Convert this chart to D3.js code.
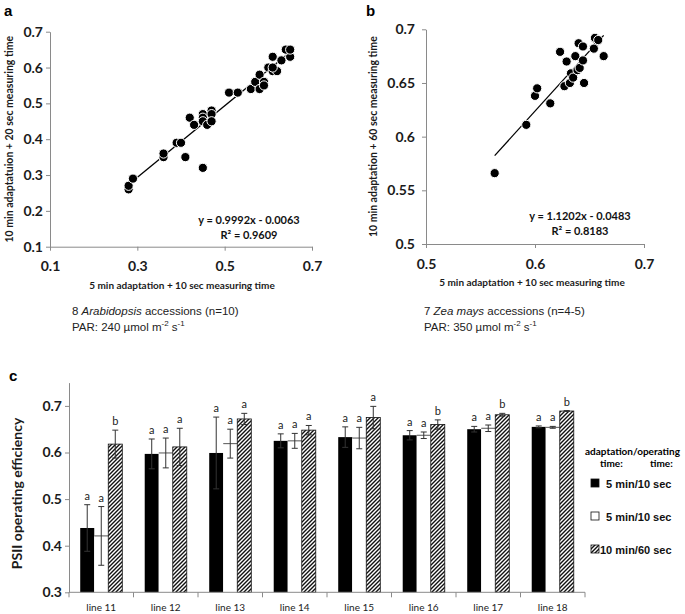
<!DOCTYPE html>
<html>
<head>
<meta charset="utf-8">
<script src="https://cdn.jsdelivr.net/npm/d3@7"></script>
<style>
  body { margin: 0; background: #fff; }
  svg { display: block; }
</style>
</head>
<body>
<svg id="chart" width="685" height="614"></svg>
<script>
// panel a - Arabidopsis
const aX = [0.28, 0.28, 0.29, 0.36, 0.36, 0.39, 0.40, 0.41, 0.42, 0.43, 0.45, 0.45, 0.45, 0.45, 0.46, 0.47, 0.47, 0.47,
  0.51, 0.53, 0.56, 0.57, 0.58, 0.58, 0.59, 0.59, 0.60, 0.61, 0.62, 0.61, 0.61, 0.63, 0.65, 0.64, 0.65];
const aY = [0.26, 0.27, 0.29, 0.35, 0.36, 0.39, 0.39, 0.35, 0.46, 0.44, 0.47, 0.46, 0.45, 0.32, 0.44, 0.48, 0.47, 0.45,
  0.53, 0.53, 0.54, 0.56, 0.58, 0.54, 0.56, 0.55, 0.60, 0.59, 0.59, 0.60, 0.63, 0.62, 0.63, 0.65, 0.65];
const aFit = [0.9992, -0.0063];
const aFitText = ['y = 0.9992x - 0.0063', 'R² = 0.9609'];
const aXTicks = [0.1, 0.3, 0.5, 0.7];
const aYTicks = [0.1, 0.2, 0.3, 0.4, 0.5, 0.6, 0.7];

// panel b - Zea mays
const bX = [0.563, 0.592, 0.600, 0.602, 0.614, 0.623, 0.627, 0.629, 0.632, 0.633, 0.635, 0.637, 0.639, 0.640, 0.641,
  0.644, 0.644, 0.645, 0.657, 0.654, 0.655, 0.658, 0.663];
const bY = [0.566, 0.611, 0.638, 0.645, 0.631, 0.679, 0.647, 0.670, 0.650, 0.659, 0.655, 0.675, 0.662, 0.687, 0.664,
  0.671, 0.684, 0.650, 0.689, 0.682, 0.692, 0.690, 0.675];
const bFit = [1.1202, -0.0483];
const bFitText = ['y = 1.1202x - 0.0483', 'R² = 0.8183'];
const bXTicks = [0.5, 0.6, 0.7];
const bYTicks = [0.5, 0.55, 0.6, 0.65, 0.7];

// panel c - bars
const lines = ['line 11', 'line 12', 'line 13', 'line 14', 'line 15', 'line 16', 'line 17', 'line 18'];
const seriesNames = ['5 min/10 sec', '5 min/10 sec', '10 min/60 sec'];
const mean1 = [0.438, 0.597, 0.599, 0.625, 0.633, 0.637, 0.650, 0.655];
const err1 = [0.050, 0.032, 0.077, 0.015, 0.022, 0.010, 0.006, 0.002];
const mean2 = [0.421, 0.599, 0.619, 0.625, 0.631, 0.637, 0.652, 0.654];
const err2 = [0.063, 0.032, 0.031, 0.016, 0.023, 0.007, 0.007, 0.002];
const mean3 = [0.618, 0.612, 0.672, 0.648, 0.675, 0.660, 0.681, 0.689];
const err3 = [0.030, 0.040, 0.012, 0.010, 0.024, 0.010, 0.003, 0.001];
const letters1 = ['a', 'a', 'a', 'a', 'a', 'a', 'a', 'a'];
const letters2 = ['a', 'a', 'a', 'a', 'a', 'a', 'a', 'a'];
const letters3 = ['b', 'a', 'a', 'a', 'a', 'b', 'b', 'b'];
const cYTicks = [0.3, 0.4, 0.5, 0.6, 0.7];

const calibri = 'Lato, "Open Sans", sans-serif';
const arial = '"Liberation Sans", Arial, sans-serif';
const axisGrey = '#8a8a8a';

const svg = d3.select('#chart');
svg.append('rect').attr('width', 685).attr('height', 614).attr('fill', '#fff');

const defs = svg.append('defs');
const hatch = defs.append('pattern')
  .attr('id', 'hatch')
  .attr('patternUnits', 'userSpaceOnUse')
  .attr('width', 4).attr('height', 4);
hatch.append('rect').attr('width', 4).attr('height', 4).attr('fill', '#fff');
hatch.append('path')
  .attr('d', 'M-1,1 l2,-2 M0,4 l4,-4 M3,5 l2,-2')
  .attr('stroke', '#111').attr('stroke-width', 1.4);

function styleAxis (g, size) {
  g.attr('font-family', calibri).attr('font-size', size).attr('font-weight', 'bold');
  g.select('.domain').attr('stroke', axisGrey);
  g.selectAll('.tick line').attr('stroke', axisGrey);
  g.selectAll('.tick text').attr('fill', '#1b1b1b');
}

function scatter (o) {
  const x = d3.scaleLinear().domain(o.xDomain).range([o.left, o.right]);
  const y = d3.scaleLinear().domain(o.yDomain).range([o.bottom, o.top]);
  const fmt = d => String(+d.toFixed(2));

  svg.append('g')
    .attr('transform', 'translate(0,' + o.bottom + ')')
    .call(d3.axisBottom(x).tickValues(o.xTicks).tickFormat(fmt).tickSize(4).tickSizeOuter(0).tickPadding(o.xPad))
    .call(g => styleAxis(g, 14));

  svg.append('g')
    .attr('transform', 'translate(' + o.left + ',0)')
    .call(d3.axisLeft(y).tickValues(o.yTicks).tickFormat(fmt).tickSize(4).tickSizeOuter(0).tickPadding(o.yPad))
    .call(g => styleAxis(g, 14));

  const x0 = d3.min(o.xs), x1 = d3.max(o.xs);
  svg.append('line')
    .attr('x1', x(x0)).attr('y1', y(o.fit[0] * x0 + o.fit[1]))
    .attr('x2', x(x1)).attr('y2', y(o.fit[0] * x1 + o.fit[1]))
    .attr('stroke', '#000').attr('stroke-width', 1.3);

  svg.append('g').selectAll('circle')
    .data(o.xs.map((d, i) => [d, o.ys[i]]))
    .enter().append('circle')
    .attr('cx', d => x(d[0]))
    .attr('cy', d => y(d[1]))
    .attr('r', 4.6)
    .attr('fill', '#000')
    .attr('stroke', '#fff')
    .attr('stroke-width', 1);

  svg.append('g').selectAll('text')
    .data(o.fitText)
    .enter().append('text')
    .attr('x', o.eqX)
    .attr('y', (d, i) => o.eqY + i * 15)
    .attr('text-anchor', 'middle')
    .attr('font-family', calibri).attr('font-size', 11).attr('font-weight', 'bold')
    .attr('fill', '#111')
    .text(d => d);

  svg.append('text')
    .attr('x', (o.left + o.right) / 2 + o.xTitleShift)
    .attr('y', o.bottom + 42)
    .attr('text-anchor', 'middle')
    .attr('font-family', calibri).attr('font-size', 10).attr('font-weight', 'bold')
    .attr('fill', '#1b1b1b')
    .text('5 min adaptation + 10 sec measuring time');

  svg.append('text')
    .attr('transform', 'translate(' + o.yTitleX + ',' + ((o.top + o.bottom) / 2) + ') rotate(-90)')
    .attr('text-anchor', 'middle')
    .attr('font-family', calibri).attr('font-size', 10.5).attr('font-weight', 'bold')
    .attr('fill', '#1b1b1b')
    .text(o.yTitle);

  svg.append('text')
    .attr('x', o.tagX).attr('y', 16)
    .attr('font-family', arial).attr('font-size', 15).attr('font-weight', 'bold')
    .text(o.tag);
}

scatter({
  xs: aX, ys: aY, fit: aFit, fitText: aFitText,
  xDomain: [0.1, 0.7], yDomain: [0.1, 0.7], xTicks: aXTicks, yTicks: aYTicks,
  left: 50, right: 312, top: 31.7, bottom: 246.7, xPad: 10, yPad: 3,
  eqX: 249, eqY: 224, xTitleShift: 1, yTitleX: 13,
  yTitle: '10 min adaptatuion + 20 sec measuring time', tag: 'a', tagX: 4
});

scatter({
  xs: bX, ys: bY, fit: bFit, fitText: bFitText,
  xDomain: [0.5, 0.7], yDomain: [0.5, 0.7], xTicks: bXTicks, yTicks: bYTicks,
  left: 426, right: 644, top: 29.3, bottom: 244, xPad: 11, yPad: 7,
  eqX: 580, eqY: 220, xTitleShift: -3, yTitleX: 377,
  yTitle: '10 min adaptation + 60 sec measuring time', tag: 'b', tagX: 366
});

// captions under a and b
function caption (x, pre, species, post, par) {
  const t1 = svg.append('text').attr('x', x).attr('y', 315)
    .attr('font-family', arial).attr('font-size', 11.5).attr('fill', '#222');
  t1.append('tspan').text(pre);
  t1.append('tspan').attr('font-style', 'italic').text(species);
  t1.append('tspan').text(post);
  const t2 = svg.append('text').attr('x', x).attr('y', 331)
    .attr('font-family', arial).attr('font-size', 11.5).attr('fill', '#222');
  t2.append('tspan').text('PAR: ' + par + ' µmol m');
  t2.append('tspan').attr('font-size', 8).attr('dy', -5).text('-2');
  t2.append('tspan').attr('dy', 5).text(' s');
  t2.append('tspan').attr('font-size', 8).attr('dy', -5).text('-1');
}
caption(72, '8 ', 'Arabidopsis', ' accessions (n=10)', 240);
caption(424, '7 ', 'Zea mays', ' accessions (n=4-5)', 350);

// panel c
const cLeft = 69, cRight = 585, cBottom = 592.3, cTop = 382.6;
const xc = d3.scaleBand().domain(lines).range([cLeft, cRight]);
const xs = d3.scaleBand().domain([0, 1, 2]).range([0, xc.bandwidth()]).paddingOuter(0.8);
const yc = d3.scaleLinear().domain([0.3, 0.75]).range([cBottom, cTop]);

svg.append('text')
  .attr('x', 9).attr('y', 381)
  .attr('font-family', arial).attr('font-size', 15).attr('font-weight', 'bold')
  .text('c');

svg.append('g')
  .attr('transform', 'translate(' + cLeft + ',0)')
  .call(d3.axisLeft(yc).tickValues(cYTicks).tickFormat(d3.format('.1f')).tickSize(4).tickSizeOuter(0).tickPadding(3))
  .call(g => styleAxis(g, 14));

svg.append('text')
  .attr('transform', 'translate(22,' + ((cTop + cBottom) / 2 + 6) + ') rotate(-90)')
  .attr('text-anchor', 'middle')
  .attr('font-family', calibri).attr('font-size', 14).attr('font-weight', 'bold')
  .attr('fill', '#1b1b1b')
  .text('PSII operating efficiency');

const fills = ['#000', '#fff', 'url(#hatch)'];
const seriesData = [[mean1, err1, letters1], [mean2, err2, letters2], [mean3, err3, letters3]];

seriesData.forEach(function (s, i) {
  const data = lines.map((l, j) => ({line: l, v: s[0][j], e: s[1][j], t: s[2][j]}));
  const g = svg.append('g');
  const bx = d => xc(d.line) + xs(i);
  const w = xs.bandwidth();

  g.selectAll('rect')
    .data(data)
    .enter().append('rect')
    .attr('x', bx)
    .attr('y', d => yc(d.v))
    .attr('width', w)
    .attr('height', d => cBottom - yc(d.v))
    .attr('fill', fills[i])
    .attr('stroke', i === 2 ? '#111' : 'none')
    .attr('stroke-width', 0.8);

  if (i === 1) {
    g.selectAll('.top')
      .data(data)
      .enter().append('line')
      .attr('x1', bx).attr('x2', d => bx(d) + w)
      .attr('y1', d => yc(d.v)).attr('y2', d => yc(d.v))
      .attr('stroke', '#555').attr('stroke-width', 1);
  }

  const eb = g.selectAll('.err')
    .data(data)
    .enter().append('g')
    .attr('stroke', '#333').attr('stroke-width', 1);
  eb.append('line')
    .attr('x1', d => bx(d) + w / 2).attr('x2', d => bx(d) + w / 2)
    .attr('y1', d => yc(d.v - d.e)).attr('y2', d => yc(d.v + d.e));
  eb.append('line')
    .attr('x1', d => bx(d) + w / 2 - 3).attr('x2', d => bx(d) + w / 2 + 3)
    .attr('y1', d => yc(d.v + d.e)).attr('y2', d => yc(d.v + d.e));
  eb.append('line')
    .attr('x1', d => bx(d) + w / 2 - 3).attr('x2', d => bx(d) + w / 2 + 3)
    .attr('y1', d => yc(d.v - d.e)).attr('y2', d => yc(d.v - d.e));

  g.selectAll('.letter')
    .data(data)
    .enter().append('text')
    .attr('x', d => bx(d) + w / 2)
    .attr('y', d => yc(d.v + d.e) - 5)
    .attr('text-anchor', 'middle')
    .attr('font-family', calibri).attr('font-size', 11)
    .attr('fill', '#222')
    .text(d => d.t);
});

// x axis of c with ticks between categories
svg.append('line')
  .attr('x1', cLeft).attr('x2', cRight)
  .attr('y1', cBottom).attr('y2', cBottom)
  .attr('stroke', axisGrey);
svg.append('g').selectAll('line')
  .data(lines.map(l => xc(l)).concat([cRight]))
  .enter().append('line')
  .attr('x1', d => d).attr('x2', d => d)
  .attr('y1', cBottom).attr('y2', cBottom + 5)
  .attr('stroke', axisGrey);
svg.append('g').selectAll('text')
  .data(lines)
  .enter().append('text')
  .attr('x', d => xc(d) + xc.bandwidth() / 2)
  .attr('y', 611)
  .attr('text-anchor', 'middle')
  .attr('font-family', calibri).attr('font-size', 10)
  .attr('fill', '#222')
  .text(d => d);

// legend
const legend = svg.append('g').attr('font-weight', 'bold');
legend.append('text').attr('x', 585).attr('y', 455)
  .attr('font-family', calibri).attr('font-size', 10).text('adaptation/operating');
legend.append('text').attr('x', 600).attr('y', 467)
  .attr('font-family', calibri).attr('font-size', 10).text('time:');
legend.append('text').attr('x', 650).attr('y', 467)
  .attr('font-family', calibri).attr('font-size', 10).text('time:');

const items = legend.selectAll('.item')
  .data(seriesNames)
  .enter().append('g')
  .attr('transform', (d, i) => 'translate(591,' + (479 + i * 33) + ')');
items.append('rect')
  .attr('width', 8).attr('height', 8)
  .attr('fill', (d, i) => fills[i])
  .attr('stroke', '#111').attr('stroke-width', 0.8);
items.append('text')
  .attr('x', (d, i) => i === 2 ? 9 : 15)
  .attr('y', 8.5)
  .attr('font-family', arial).attr('font-size', 11)
  .attr('fill', '#111')
  .text(d => d);
</script>
</body>
</html>
